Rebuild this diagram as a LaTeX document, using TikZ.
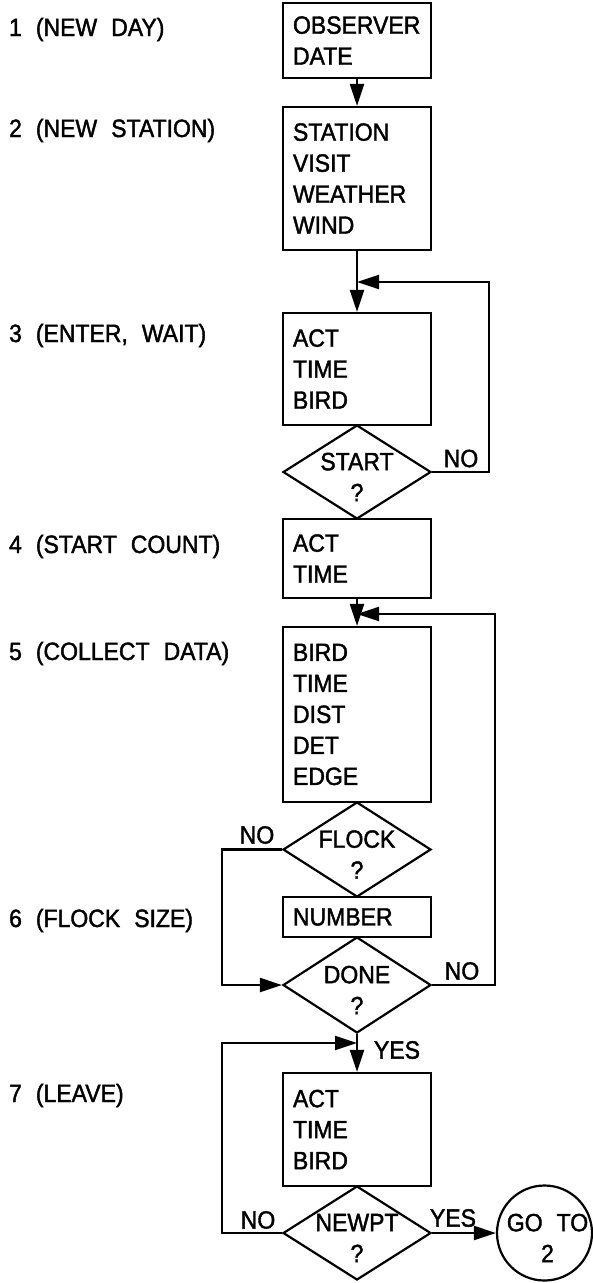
\documentclass[tikz,border=0pt]{standalone}
\usepackage{fontspec}
\setmainfont{Liberation Sans}[FakeStretch=0.92, FakeBold=1.6]
\usetikzlibrary{arrows.meta,shapes.geometric}
\newcommand{\chartfont}{\fontsize{25}{31}\selectfont\spaceskip 14pt\relax}

\begin{document}
\begin{tikzpicture}[
  x=1pt, y=-1pt,
  line width=2.2pt,
  font=\chartfont,
  box/.style={draw, rectangle, minimum width=148pt, text width=128pt,
    inner xsep=10pt, inner ysep=0pt, align=left},
  dia/.style={draw, diamond, minimum width=148pt, minimum height=94pt, inner sep=0pt},
  dtxt/.style={align=center, inner sep=0pt, yshift=-5pt},
  lab/.style={anchor=base west, inner sep=0pt},
  ans/.style={inner sep=0pt},
  arr/.style={-{Triangle[length=22pt,width=14pt]}}
]
  \useasboundingbox (0,0) rectangle (593,1283);

  % step labels (left column)
  \node[lab] (s1) at (8,36)   {1 (NEW DAY)};
  \node[lab] (s2) at (8,137)  {2 (NEW STATION)};
  \node[lab] (s3) at (8,342)  {3 (ENTER, WAIT)};
  \node[lab] (s4) at (8,553)  {4 (START COUNT)};
  \node[lab] (s5) at (8,660)  {5 (COLLECT DATA)};
  \node[lab] (s6) at (8,927)  {6 (FLOCK SIZE)};
  \node[lab] (s7) at (8,1102) {7 (LEAVE)};

  % --- boxes and tests
  \node[box, minimum height=75pt]  (obs)     at (357,40.5)  {OBSERVER\\DATE};
  \node[box, minimum height=143pt] (station) at (357,178.5) {STATION\\VISIT\\WEATHER\\WIND};
  \node[box, minimum height=112pt] (enter)   at (357,369)   {ACT\\TIME\\BIRD};
  \node[dia, label={[dtxt]center:START\\?}] (start) at (357,472) {};
  \node[box, minimum height=79pt]  (count)   at (357,558.5) {ACT\\TIME};
  \node[box, minimum height=175pt] (collect) at (357,714.5) {BIRD\\TIME\\DIST\\DET\\EDGE};
  \node[dia, minimum height=95pt, label={[dtxt]center:FLOCK\\?}] (flock) at (357,849.5) {};
  \node[box, minimum height=40pt]  (number)  at (357,917)   {NUMBER};
  \node[dia, minimum height=96pt, label={[dtxt]center:DONE\\?}] (done) at (357,985) {};
  \node[box, minimum height=113pt] (leave)   at (357,1129.5) {ACT\\TIME\\BIRD};
  \node[dia, label={[dtxt]center:NEWPT\\?}] (newpt) at (357,1233) {};
  \node[draw, circle, minimum size=95pt, inner sep=0pt,
    label={[dtxt, xshift=3pt]center:GO TO\\2}] (goto) at (544.5,1233) {};

  % --- junctions and return corners
  \coordinate (j1) at (357,282);
  \coordinate (r1) at (489,282);
  \coordinate (j2) at (357,614);
  \coordinate (r2) at (495,614);
  \coordinate (k1) at (222,849.5);
  \coordinate (j3) at (357,1043);
  \coordinate (k2) at (222,1043);

  % --- connectors
  \draw[arr] (obs.south) -- (station.north);
  \draw[arr] (station.south) -- (enter.north);
  \draw[arr] (start.east) -| (r1) -- (j1);
  \draw[arr] (count.south) -- (collect.north);
  \draw[arr] (done.east) -| (r2) -- (j2);
  \draw[arr] (flock.west) -- (k1) |- (done.west);
  \draw[arr] (done.south) -- (leave.north);
  \draw[arr] (newpt.west) -| (k2) -- (j3);
  \draw[arr] (newpt.east) -- (goto.west);

  % answers
  \node[ans] (no1)  at (461,458.5) {NO};
  \node[ans] (no2)  at (257,835)   {NO};
  \node[ans] (no3)  at (462,971)   {NO};
  \node[ans] (yes1) at (397,1050)  {YES};
  \node[ans] (no4)  at (258,1220)  {NO};
  \node[ans] (yes2) at (453,1218)  {YES};
\end{tikzpicture}
\end{document}
